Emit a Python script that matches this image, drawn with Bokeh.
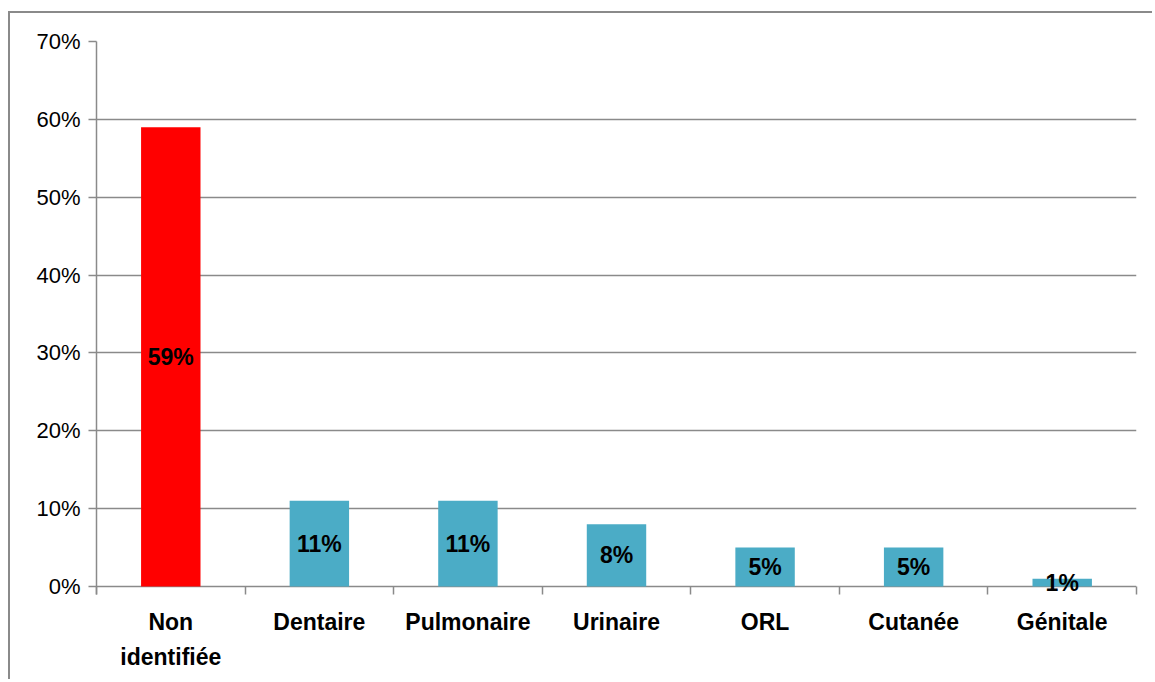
from bokeh.plotting import figure
from bokeh.models import ColumnDataSource, FixedTicker, NumeralTickFormatter, Range1d
from bokeh.core.properties import value
from bokeh.embed import file_html
from bokeh.resources import INLINE

categories = ["Non\nidentifiée", "Dentaire", "Pulmonaire", "Urinaire", "ORL", "Cutanée", "Génitale"]
shares = [0.59, 0.11, 0.11, 0.08, 0.05, 0.05, 0.01]
bar_colors = ["#FF0000", "#4BACC6", "#4BACC6", "#4BACC6", "#4BACC6", "#4BACC6", "#4BACC6"]
y_ticks = [0.0, 0.1, 0.2, 0.3, 0.4, 0.5, 0.6, 0.7]

FONT = "Liberation Sans"
GRAY = "#8a8a8a"

n = len(categories)
xs = [i + 0.5 for i in range(n)]
labels = [f"{round(v * 100)}%" for v in shares]

src = ColumnDataSource(dict(x=xs, top=shares, mid=[v / 2 for v in shares],
                            color=bar_colors, label=labels))

# frame extends 8px below the zero line so that the x ticks and the small "1%" label are not clipped
y_max = 0.7
y_min = y_max - y_max * 553 / 545

p = figure(width=1144, height=668, output_backend="svg", toolbar_location=None,
           x_range=Range1d(0, n), y_range=Range1d(y_min, y_max),
           min_border_left=86, min_border_right=18, min_border_top=28, min_border_bottom=87)
p.margin = (11, 0, 0, 8)
p.styles = {"border-left": f"2px solid {GRAY}", "border-top": f"2px solid {GRAY}"}
p.outline_line_color = None
p.background_fill_color = "white"
p.border_fill_color = "white"

p.xgrid.grid_line_color = None
p.ygrid.ticker = FixedTicker(ticks=y_ticks)
p.ygrid.grid_line_color = GRAY
p.ygrid.grid_line_width = 1.5

p.vbar(x="x", top="top", width=0.4, color="color", line_color=None, source=src)
p.text(x="x", y="mid", text="label", source=src, text_align="center", text_baseline="middle",
       text_font=value(FONT), text_font_size="23px", text_font_style="bold", text_color="black")

# y axis
p.yaxis.ticker = FixedTicker(ticks=y_ticks)
p.yaxis.formatter = NumeralTickFormatter(format="0%")
p.yaxis.axis_line_color = GRAY
p.yaxis.axis_line_width = 1.5
p.yaxis.major_tick_line_color = GRAY
p.yaxis.major_tick_line_width = 1.5
p.yaxis.major_tick_out = 8
p.yaxis.major_tick_in = 0
p.yaxis.minor_tick_line_color = None
p.yaxis.major_label_text_font = FONT
p.yaxis.major_label_text_font_size = "22px"
p.yaxis.major_label_text_color = "black"
p.yaxis.major_label_standoff = 8

# x axis (its line is the zero grid line; ticks reach up to it)
p.xaxis.ticker = FixedTicker(ticks=xs, minor_ticks=list(range(n + 1)))
p.xaxis.major_label_overrides = {x: c for x, c in zip(xs, categories)}
p.xaxis.axis_line_color = None
p.xaxis.major_tick_line_color = None
p.xaxis.major_tick_out = 0
p.xaxis.major_tick_in = 0
p.xaxis.minor_tick_line_color = GRAY
p.xaxis.minor_tick_line_width = 1.5
p.xaxis.minor_tick_out = 0
p.xaxis.minor_tick_in = 8
p.xaxis.major_label_text_font = FONT
p.xaxis.major_label_text_font_size = "23px"
p.xaxis.major_label_text_font_style = "bold"
p.xaxis.major_label_text_color = "black"
p.xaxis.major_label_text_line_height = 1.35
p.xaxis.major_label_standoff = 14

open("out.html", "w").write(file_html(p, INLINE))
